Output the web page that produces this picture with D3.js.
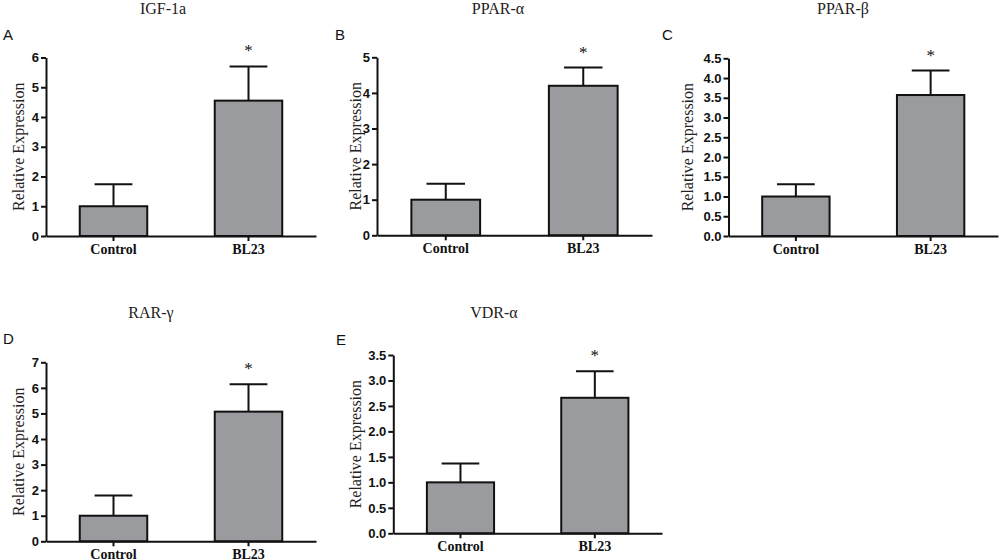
<!DOCTYPE html>
<html>
<head>
<meta charset="utf-8">
<script src="https://cdn.jsdelivr.net/npm/d3@7"></script>
<style>
	body { margin: 0; background: #fff; }
	svg { display: block; }
</style>
</head>
<body>
<svg id="chart" width="1000" height="560"></svg>
<script>
// data
const genes = ["IGF-1a", "PPAR-α", "PPAR-β", "RAR-γ", "VDR-α"];
const letters = ["A", "B", "C", "D", "E"];
const groups = ["Control", "BL23"];
const controlMean = [1.0, 1.0, 1.0, 1.0, 1.0];
const controlUpper = [1.74, 1.45, 1.31, 1.79, 1.37];
const bl23Mean = [4.55, 4.2, 3.57, 5.07, 2.66];
const bl23Upper = [5.7, 4.71, 4.19, 6.14, 3.18];
const yMax = [6, 5, 4.5, 7, 3.5];
const yStep = [1, 1, 0.5, 1, 0.5];
const yFormat = ["d", "d", ".1f", "d", ".1f"];

// layout of each panel on the page
const layout = [
	{ x0: 46,    x1: 316, top: 57.5, bot: 236,   titleX: 163, titleY: 14,  letterX: 3,   letterY: 40,  labX: 18 },
	{ x0: 377,   x1: 652, top: 57.3, bot: 235.3, titleX: 498, titleY: 14,  letterX: 335, letterY: 40,  labX: 355 },
	{ x0: 728.5, x1: 998, top: 58.3, bot: 236,   titleX: 843, titleY: 14,  letterX: 662, letterY: 40,  labX: 687 },
	{ x0: 46,    x1: 316, top: 362.3, bot: 541.3, titleX: 151, titleY: 318, letterX: 3,  letterY: 344, labX: 18 },
	{ x0: 393.3, x1: 662, top: 355,  bot: 533.3, titleX: 494, titleY: 318, letterX: 336, letterY: 345, labX: 355 }
];

const serif = "'Liberation Serif', 'Times New Roman', serif";
const sans = "'Liberation Sans', Arial, sans-serif";
const svg = d3.select("#chart");
const barFill = "#9a9b9f";

genes.forEach((gene, i) => {
	const L = layout[i];
	const g = svg.append("g");

	const x = d3.scaleBand().domain(groups).range([L.x0, L.x1])
		.paddingInner(0.5).paddingOuter(0.25);
	const y = d3.scaleLinear().domain([0, yMax[i]]).range([L.bot, L.top]);

	const rows = [
		{ grp: "Control", mean: controlMean[i], upper: controlUpper[i], star: false },
		{ grp: "BL23", mean: bl23Mean[i], upper: bl23Upper[i], star: true }
	];

	// error bars (behind bars)
	const capW = x.bandwidth() * 0.56;
	rows.forEach(d => {
		const cx = x(d.grp) + x.bandwidth() / 2;
		g.append("line")
			.attr("x1", cx).attr("x2", cx)
			.attr("y1", y(d.mean)).attr("y2", y(d.upper))
			.attr("stroke", "#111").attr("stroke-width", 2);
		g.append("line")
			.attr("x1", cx - capW / 2).attr("x2", cx + capW / 2)
			.attr("y1", y(d.upper)).attr("y2", y(d.upper))
			.attr("stroke", "#111").attr("stroke-width", 2);
		if (d.star) {
			g.append("text")
				.attr("x", cx).attr("y", y(d.upper) - 10)
				.attr("text-anchor", "middle")
				.attr("font-family", serif)
				.attr("font-size", "17px").attr("fill", "#111")
				.text("*");
		}
	});

	g.selectAll("rect.bar").data(rows).join("rect")
		.attr("class", "bar")
		.attr("x", d => x(d.grp))
		.attr("y", d => y(d.mean))
		.attr("width", x.bandwidth())
		.attr("height", d => y(0) - y(d.mean))
		.attr("fill", barFill)
		.attr("stroke", "#111").attr("stroke-width", 2);

	// y axis
	const ticks = d3.range(0, yMax[i] + yStep[i] / 2, yStep[i]);
	const yAxis = g.append("g")
		.attr("transform", `translate(${L.x0}, 0)`)
		.call(d3.axisLeft(y).tickValues(ticks).tickFormat(d3.format(yFormat[i]))
			.tickSizeInner(5).tickSizeOuter(0).tickPadding(2));
	yAxis.select(".domain").attr("stroke", "#111").attr("stroke-width", 2);
	yAxis.selectAll(".tick line").attr("stroke", "#111").attr("stroke-width", 2);
	yAxis.selectAll(".tick text")
		.attr("font-family", sans)
		.attr("font-weight", "bold").attr("font-size", "13px").attr("fill", "#111");

	// x axis
	const xAxis = g.append("g")
		.attr("transform", `translate(0, ${L.bot})`)
		.call(d3.axisBottom(x).tickSizeInner(5).tickSizeOuter(0).tickPadding(3));
	xAxis.select(".domain").attr("stroke", "#111").attr("stroke-width", 2);
	xAxis.selectAll(".tick line").attr("stroke", "#111").attr("stroke-width", 2);
	xAxis.selectAll(".tick text")
		.attr("font-family", serif)
		.attr("font-weight", "bold").attr("font-size", "14px").attr("fill", "#111");

	// y label
	g.append("text")
		.attr("transform", `translate(${L.labX}, ${(L.top + L.bot) / 2}) rotate(-90)`)
		.attr("text-anchor", "middle").attr("dominant-baseline", "central")
		.attr("font-family", serif)
		.attr("font-size", "16px").attr("fill", "#222")
		.text("Relative Expression");

	// title
	g.append("text")
		.attr("x", L.titleX).attr("y", L.titleY)
		.attr("text-anchor", "middle")
		.attr("font-family", serif)
		.attr("font-size", "16px").attr("fill", "#222")
		.text(gene);

	// panel letter
	g.append("text")
		.attr("x", L.letterX).attr("y", L.letterY)
		.attr("font-family", sans)
		.attr("font-size", "15px").attr("fill", "#111")
		.text(letters[i]);
});
</script>
</body>
</html>
